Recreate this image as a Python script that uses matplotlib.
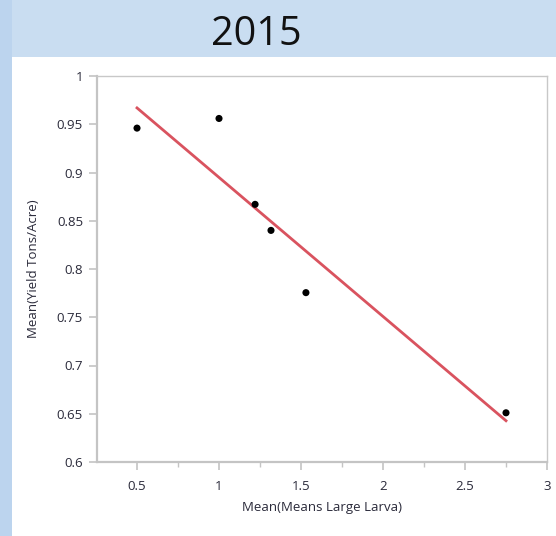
import numpy as np
import matplotlib
matplotlib.use("Agg")
import matplotlib.pyplot as plt
from matplotlib.patches import Rectangle
from matplotlib.ticker import MultipleLocator

title = "2015"
larva = [0.50, 1.00, 1.22, 1.317, 1.53, 2.75]
yield_tons = [0.946, 0.956, 0.867, 0.840, 0.7755, 0.651]
x_label = "Mean(Means Large Larva)"
y_label = "Mean(Yield Tons/Acre)"
x_ticks = [0.5, 1, 1.5, 2, 2.5, 3]
x_tick_labels = ["0.5", "1", "1.5", "2", "2.5", "3"]
y_ticks = [0.6, 0.65, 0.7, 0.75, 0.8, 0.85, 0.9, 0.95, 1]
y_tick_labels = ["0.6", "0.65", "0.7", "0.75", "0.8", "0.85", "0.9", "0.95", "1"]

plt.rcParams["font.family"] = ["Open Sans", "DejaVu Sans"]

W, H = 556, 536
fig = plt.figure(figsize=(W / 100, H / 100), dpi=100)
fig.patch.set_facecolor("#c9ddf1")

# white report panel and left strip
fig.add_artist(Rectangle((0, 0), 12 / W, 1, transform=fig.transFigure,
                         facecolor="#bcd4ee", edgecolor="none", zorder=0))
fig.add_artist(Rectangle((12 / W, 0), 1 - 12 / W, 1 - 57 / H, transform=fig.transFigure,
                         facecolor="white", edgecolor="none", zorder=0))

fig.text(256 / W, 1 - 45 / H, title, ha="center", va="baseline",
         fontsize=28.5, color="#111111")

left, right, top, bottom = 97, 547, 76, 462
ax = fig.add_axes([left / W, 1 - bottom / H, (right - left) / W, (bottom - top) / H])
ax.set_facecolor("white")

xs = np.array(larva)
ys = np.array(yield_tons)
slope, intercept = np.polyfit(xs, ys, 1)
xl = np.array([xs.min(), xs.max()])
ax.plot(xl, slope * xl + intercept, color="#d9535f", lw=2.0, zorder=2)
ax.scatter(xs, ys, s=26, color="black", zorder=3, edgecolors="none")

ax.set_xlim(0.256, 3.0)
ax.set_ylim(0.6, 1.0)
ax.set_xticks(x_ticks)
ax.set_xticklabels(x_tick_labels)
ax.set_yticks(y_ticks)
ax.set_yticklabels(y_tick_labels)
ax.xaxis.set_minor_locator(MultipleLocator(0.25))

for s in ["left", "bottom"]:
    ax.spines[s].set_color("#c4c4c4")
    ax.spines[s].set_linewidth(1.6)
for s in ["top", "right"]:
    ax.spines[s].set_color("#c8c8c8")
    ax.spines[s].set_linewidth(1.0)

ax.tick_params(axis="both", which="major", direction="out", length=6, width=1.2,
               color="#c4c4c4", labelsize=9.5, labelcolor="#2a2a3a", pad=4)
ax.tick_params(axis="x", which="minor", direction="out", length=3.5, width=1.0,
               color="#c4c4c4")
ax.tick_params(axis="x", which="major", pad=7)
ax.tick_params(axis="y", which="minor", length=0)

ax.set_xlabel(x_label, fontsize=9.5, color="#2a2a3a", labelpad=6)
ax.set_ylabel(y_label, fontsize=9.5, color="#2a2a3a", labelpad=12)

fig.savefig("out.png", dpi=100, facecolor=fig.get_facecolor())
